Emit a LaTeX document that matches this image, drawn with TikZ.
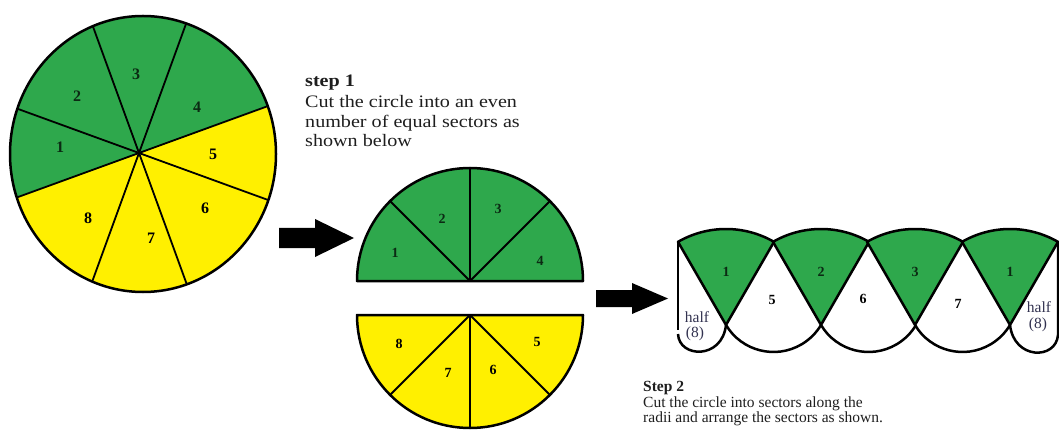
\documentclass[tikz,border=0pt]{standalone}
\usepackage{fontspec}
\setmainfont{Liberation Serif}
\newfontfamily\wideserif[FakeStretch=1.15]{Liberation Serif}
\usetikzlibrary{calc}
\definecolor{sgreen}{RGB}{46,168,76}
\definecolor{syellow}{RGB}{255,240,0}
\definecolor{txt}{RGB}{30,30,30}
\definecolor{halftxt}{RGB}{50,50,80}
\tikzset{
  outline/.style={line width=2.5pt, line join=round},
  radial/.style={line width=1.8pt},
  num/.style={font=\fontsize{14}{14}\selectfont\bfseries, inner sep=0pt, text=black},
  numg/.style={num, text=black!75!sgreen},
  bignum/.style={num, font=\fontsize{16}{16}\selectfont\bfseries},
  bignumg/.style={bignum, text=black!75!sgreen},
  stepA/.style={font=\wideserif\fontsize{17.5}{20}\selectfont, anchor=base west, inner sep=0pt, text=txt},
  stepB/.style={font=\fontsize{15.5}{16}\selectfont, anchor=base west, inner sep=0pt, text=txt},
  halflbl/.style={font=\fontsize{15.5}{15.5}\selectfont, inner sep=0pt, text=halftxt},
  blockarrow/.style={fill=black},
}
\begin{document}
\begin{tikzpicture}[x=1pt,y=-1pt]
\useasboundingbox (0,0) rectangle (1059,430);
% ---------- big circle ----------
\coordinate (o) at (139,153);
\coordinate (cc) at (143,154);
\fill[syellow] (cc) ellipse[x radius=133, y radius=138];
\begin{scope}
  \clip (cc) ellipse[x radius=133, y radius=138];
  \fill[sgreen] (o) -- ($(o)+(-20:300)$) -- ($(o)+(-90:300)$) -- ($(o)+(-160:300)$) -- ($(o)+(-200:300)$) -- cycle;
  \foreach \a in {20,70,110,160,200,250,290,340}
    \draw[radial] (o) -- ($(o)+(-\a:200)$);
\end{scope}
\draw[outline] (cc) ellipse[x radius=133, y radius=138];
\node[bignumg] (c1) at (60,147) {1};
\node[bignumg] (c2) at (77,96) {2};
\node[bignumg] (c3) at (136,74) {3};
\node[bignumg] (c4) at (197,107) {4};
\node[bignum] (c5) at (213,154) {5};
\node[bignum] (c6) at (205,208) {6};
\node[bignum] (c7) at (151,238) {7};
\node[bignum] (c8) at (88,218) {8};
% ---------- step 1 text ----------
\node[stepA] (s1a) at (305,87) {\bfseries step 1};
\node[stepA] (s1b) at (305,108) {Cut the circle into an even};
\node[stepA] (s1c) at (305,128) {number of equal sectors as};
\node[stepA] (s1d) at (305,147) {shown below};
% ---------- arrow 1 ----------
\fill[blockarrow] (279,228) -- (315,228) -- (315,219) -- (354,238) -- (315,257) -- (315,248) -- (279,248) -- cycle;
% ---------- half circles ----------
\coordinate (gh) at (470,281);
\fill[sgreen] (357,281) -- (583,281) arc[start angle=0, end angle=-180, radius=113] -- cycle;
\foreach \a in {45,90,135}
  \draw[radial] (gh) -- ($(gh)+(-\a:113)$);
\draw[outline] (357,281) -- (583,281) arc[start angle=0, end angle=-180, radius=113] -- cycle;
\node[numg] (h1) at (395,253) {1};
\node[numg] (h2) at (442,219) {2};
\node[numg] (h3) at (498,209) {3};
\node[numg] (h4) at (540,261) {4};
\coordinate (yh) at (470,315);
\fill[syellow] (357,315) arc[start angle=180, end angle=0, radius=113] -- cycle;
\foreach \a in {225,270,315}
  \draw[radial] (yh) -- ($(yh)+(-\a:113)$);
\draw[outline] (357,315) arc[start angle=180, end angle=0, radius=113] -- cycle;
\node[num] (h8) at (399,344) {8};
\node[num] (h7) at (448,373) {7};
\node[num] (h6) at (493,370) {6};
\node[num] (h5) at (537,342) {5};
% ---------- arrow 2 ----------
\fill[blockarrow] (596,290) -- (632,290) -- (632,283) -- (668,298.5) -- (632,314) -- (632,307) -- (596,307) -- cycle;
% ---------- step 2 arrangement ----------
\foreach \x/\lab in {726/1,821/2,915/3,1010/1}{
  \fill[sgreen] (\x,325) -- ++(-60:96) arc[start angle=-60, end angle=-120, radius=96] -- cycle;
  \draw[outline] (\x,325) -- ++(-60:96) arc[start angle=-60, end angle=-120, radius=96] -- cycle;
  \node[numg] at (\x,272) {\lab};
}
\foreach \x in {726,821,915}
  \draw[outline] (\x,325) arc[start angle=149.2, end angle=30.8, radius=55.3];
\draw[outline] (678,242) -- (678,330);
\draw[outline] (678,334) .. controls (679,358) and (722,360) .. (726,325);
\draw[outline] (1010,325) .. controls (1014,360) and (1056,360) .. (1058,335) -- (1058,242);
\node[num] (a5) at (772,300) {5};
\node[num] (a6) at (863,299) {6};
\node[num] (a7) at (958,304) {7};
\node[halflbl] (hl1) at (697,317) {half};
\node[halflbl] (hl2) at (695,334) {(8)};
\node[halflbl] (hr1) at (1039,307) {half};
\node[halflbl] (hr2) at (1038,325) {(8)};
% ---------- step 2 text ----------
\node[stepB] (s2a) at (643,391) {\bfseries Step 2};
\node[stepB] (s2b) at (643,407) {Cut the circle into sectors along the};
\node[stepB] (s2c) at (643,422) {radii and arrange the sectors as shown.};
\end{tikzpicture}
\end{document}
